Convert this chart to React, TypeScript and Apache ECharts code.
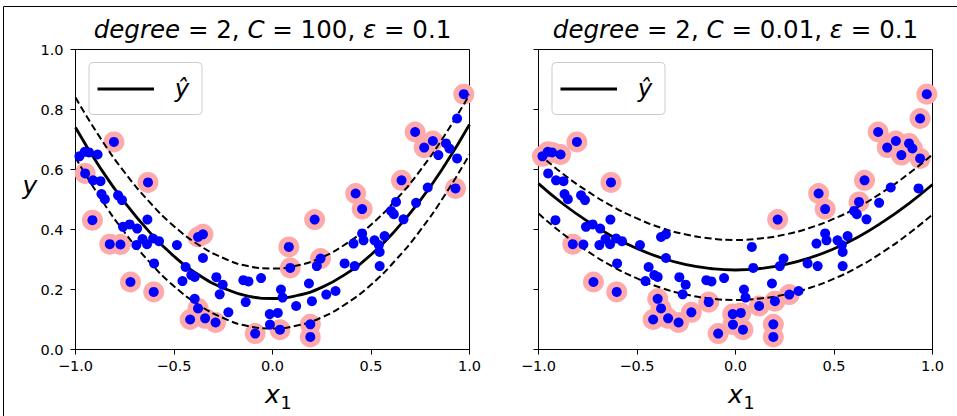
import React, { useEffect, useRef } from "react";
import * as echarts from "echarts";

// ---- data ----
const X = [
  -0.98, -0.953, -0.931, -0.888, -0.805, -0.951, -0.911, -0.873, -0.632, -0.868,
  -0.784, -0.851, -0.764, -0.914, -0.759, -0.725, -0.687, -0.635, -0.826, -0.772,
  -0.691, -0.66, -0.637, -0.606, -0.576, -0.601, -0.721, -0.603, -0.485, -0.378,
  -0.353, -0.353, -0.441, -0.457, -0.412, -0.395, -0.395, -0.378, -0.418, -0.342,
  -0.289, -0.285, -0.253, -0.268, -0.224, -0.148, -0.122, -0.136, -0.058, -0.088,
  -0.014, -0.013, 0.027, 0.038, 0.043, 0.051, 0.12, 0.185, 0.2, 0.192,
  0.192, 0.273, 0.32, 0.09, 0.083, 0.225, 0.244, 0.214, 0.366, 0.417,
  0.411, 0.455, 0.462, 0.518, 0.569, 0.54, 0.544, 0.544, 0.455, 0.422,
  0.627, 0.602, 0.616, 0.665, 0.729, 0.788, 0.929, 0.971, 0.937, 0.724,
  0.814, 0.77, 0.881, 0.898, 0.842, 0.937, 0.655,
];
const Y = [
  0.644, 0.659, 0.657, 0.65, 0.692, 0.587, 0.564, 0.561, 0.557, 0.518,
  0.514, 0.501, 0.498, 0.431, 0.409, 0.417, 0.403, 0.433, 0.351, 0.35,
  0.348, 0.368, 0.351, 0.37, 0.361, 0.287, 0.225, 0.192, 0.348, 0.375,
  0.384, 0.305, 0.275, 0.228, 0.248, 0.242, 0.169, 0.137, 0.1, 0.104,
  0.09, 0.241, 0.216, 0.184, 0.124, 0.231, 0.227, 0.158, 0.238, 0.053,
  0.118, 0.083, 0.122, 0.066, 0.2, 0.173, 0.145, 0.22, 0.161, 0.084,
  0.042, 0.183, 0.195, 0.272, 0.342, 0.278, 0.303, 0.433, 0.287, 0.278,
  0.353, 0.387, 0.364, 0.364, 0.378, 0.348, 0.325, 0.278, 0.468, 0.52,
  0.492, 0.462, 0.451, 0.434, 0.489, 0.54, 0.537, 0.851, 0.77, 0.725,
  0.695, 0.673, 0.687, 0.67, 0.648, 0.637, 0.564,
];
// 1 = highlighted (support vector) in each panel
const SV_C100 = [
  0, 0, 0, 0, 1, 1, 0, 0, 1, 0,
  0, 0, 0, 1, 0, 0, 0, 0, 1, 1,
  0, 0, 0, 0, 0, 0, 1, 1, 0, 1,
  1, 0, 0, 0, 0, 0, 0, 1, 1, 1,
  1, 0, 0, 0, 0, 0, 0, 0, 0, 1,
  0, 0, 0, 1, 0, 0, 0, 0, 0, 1,
  1, 0, 0, 1, 1, 0, 1, 1, 0, 0,
  0, 0, 0, 0, 0, 0, 0, 0, 1, 1,
  0, 0, 0, 0, 0, 0, 1, 1, 0, 1,
  1, 1, 0, 0, 0, 0, 1,
];
const SV_C001 = [
  1, 1, 1, 1, 1, 0, 0, 0, 1, 0,
  0, 0, 0, 0, 0, 0, 0, 0, 1, 0,
  0, 0, 0, 0, 0, 0, 1, 1, 0, 0,
  0, 0, 0, 0, 0, 0, 1, 1, 1, 1,
  1, 0, 0, 0, 1, 0, 0, 1, 0, 1,
  1, 1, 1, 1, 0, 0, 1, 0, 1, 1,
  1, 1, 0, 0, 0, 0, 0, 1, 0, 0,
  0, 0, 0, 0, 0, 0, 0, 0, 1, 1,
  1, 0, 0, 0, 0, 0, 0, 1, 1, 1,
  1, 1, 1, 1, 1, 1, 1,
];
const CURVE_X = [-1, -0.875, -0.75, -0.625, -0.5, -0.375, -0.25, -0.125, 0, 0.125, 0.25, 0.375, 0.5, 0.625, 0.75, 0.875, 1];
const PRED_C100 = [0.74, 0.606, 0.49, 0.392, 0.311, 0.249, 0.205, 0.178, 0.17, 0.18, 0.207, 0.253, 0.316, 0.398, 0.497, 0.615, 0.75];
const PRED_C001 = [0.553, 0.485, 0.427, 0.377, 0.337, 0.305, 0.283, 0.27, 0.265, 0.27, 0.283, 0.305, 0.336, 0.376, 0.426, 0.484, 0.55];
const EPSILON = 0.1;
const TITLES_C = ["100", "0.01"];
const LEGEND_LABEL = "ŷ";

const FONT = "DejaVu Sans";
const fmt = (v: number) => v.toFixed(1).replace("-", "\u2212");

const GRIDS = [
  { left: 75.5, top: 49.5, width: 394, height: 300 },
  { left: 538.5, top: 49.5, width: 394, height: 300 },
];

export default function App() {
  const ref = useRef<HTMLDivElement>(null);
  useEffect(() => {
    if (!ref.current) return;
    const chart = echarts.init(ref.current, undefined, { renderer: "svg" });
    const preds = [PRED_C100, PRED_C001];
    const svs = [SV_C100, SV_C001];
    const series: any[] = [];
    const graphic: any[] = [
      { type: "line", silent: true, shape: { x1: 3.5, y1: 6.5, x2: 957, y2: 6.5 }, style: { stroke: "#000", lineWidth: 1 } },
      { type: "line", silent: true, shape: { x1: 3.5, y1: 6.5, x2: 3.5, y2: 416 }, style: { stroke: "#000", lineWidth: 1 } },
      {
        type: "text", x: 30, y: 185, silent: true,
        style: { text: "y", fontSize: 25, fontStyle: "italic", fontFamily: FONT, fill: "#000", align: "center", verticalAlign: "middle" },
      },
    ];
    GRIDS.forEach((g, gi) => {
      const pts = X.map((x, i) => [x, Y[i]]);
      const sv = pts.filter((_, i) => svs[gi][i] === 1);
      const p = preds[gi];
      series.push({
        type: "scatter", xAxisIndex: gi, yAxisIndex: gi, data: sv, symbolSize: 21, silent: true, z: 1,
        itemStyle: { color: "#ffaaaa", opacity: 1 },
      });
      series.push({
        type: "line", xAxisIndex: gi, yAxisIndex: gi, data: CURVE_X.map((x, i) => [x, p[i]]), smooth: true, symbol: "none", silent: true, z: 2,
        lineStyle: { color: "#000", width: 2.8 },
      });
      series.push({
        type: "line", xAxisIndex: gi, yAxisIndex: gi, data: CURVE_X.map((x, i) => [x, p[i] + EPSILON]), smooth: true, symbol: "none", silent: true, z: 2,
        lineStyle: { color: "#000", width: 2, type: [7, 3.5] },
      });
      series.push({
        type: "line", xAxisIndex: gi, yAxisIndex: gi, data: CURVE_X.map((x, i) => [x, p[i] - EPSILON]), smooth: true, symbol: "none", silent: true, z: 2,
        lineStyle: { color: "#000", width: 2, type: [7, 3.5] },
      });
      series.push({
        type: "scatter", xAxisIndex: gi, yAxisIndex: gi, data: pts, symbolSize: 10, silent: true, z: 3,
        itemStyle: { color: "#0000ff", opacity: 1 },
      });
      const cx = g.left + g.width / 2;
      graphic.push({
        type: "text", x: cx, y: 29.5, silent: true,
        style: {
          text: `{i|degree} = 2, {i|C} = ${TITLES_C[gi]}, {i|ε} = 0.1`,
          fontSize: 24.5, fontFamily: FONT, fill: "#000", align: "center", verticalAlign: "middle",
          rich: { i: { fontStyle: "italic", fontSize: 24.5, fontFamily: FONT, fill: "#000" } },
        },
      });
      graphic.push({
        type: "text", x: cx, y: 394, silent: true,
        style: { text: "x", fontSize: 25, fontStyle: "italic", fontFamily: FONT, fill: "#000", align: "center", verticalAlign: "middle" },
      });
      graphic.push({
        type: "text", x: cx + 13.5, y: 403, silent: true,
        style: { text: "1", fontSize: 17.5, fontFamily: FONT, fill: "#000", align: "center", verticalAlign: "middle" },
      });
      const lx = g.left + 13.5;
      graphic.push({
        type: "group", silent: true, z: 100,
        children: [
          { type: "rect", shape: { x: lx, y: 62.5, width: 113, height: 52, r: 4 }, style: { fill: "rgba(255,255,255,0.8)", stroke: "#cccccc", lineWidth: 1 } },
          { type: "line", shape: { x1: lx + 8.5, y1: 89, x2: lx + 65, y2: 89 }, style: { stroke: "#000", lineWidth: 2.8 } },
          {
            type: "text", x: lx + 93, y: 88,
            style: { text: LEGEND_LABEL, fontSize: 24.5, fontStyle: "italic", fontFamily: FONT, fill: "#000", align: "center", verticalAlign: "middle" },
          },
        ],
      });
    });
    const axisCommon = {
      type: "value",
      axisLine: { show: true, onZero: false, lineStyle: { color: "#000", width: 1 } },
      axisTick: { show: true, inside: false, length: 5, lineStyle: { color: "#000", width: 1 } },
      splitLine: { show: false },
    };
    chart.setOption({
      animation: false,
      grid: GRIDS.map((g) => ({ ...g, show: true, borderColor: "#000", borderWidth: 1, backgroundColor: "transparent" })),
      xAxis: GRIDS.map((_, gi) => ({
        ...axisCommon, gridIndex: gi, min: -1, max: 1, interval: 0.5,
        axisLabel: { formatter: fmt, color: "#000", fontSize: 14.5, fontFamily: FONT, margin: 9 },
      })),
      yAxis: GRIDS.map((_, gi) => ({
        ...axisCommon, gridIndex: gi, min: 0, max: 1, interval: 0.2,
        axisLabel: { show: gi === 0, formatter: fmt, color: "#000", fontSize: 14.5, fontFamily: FONT, margin: 12 },
      })),
      series,
      graphic,
    });
    return () => chart.dispose();
  }, []);
  return <div ref={ref} style={{ position: "absolute", left: 0, top: 0, width: 957, height: 416 }} />;
}
